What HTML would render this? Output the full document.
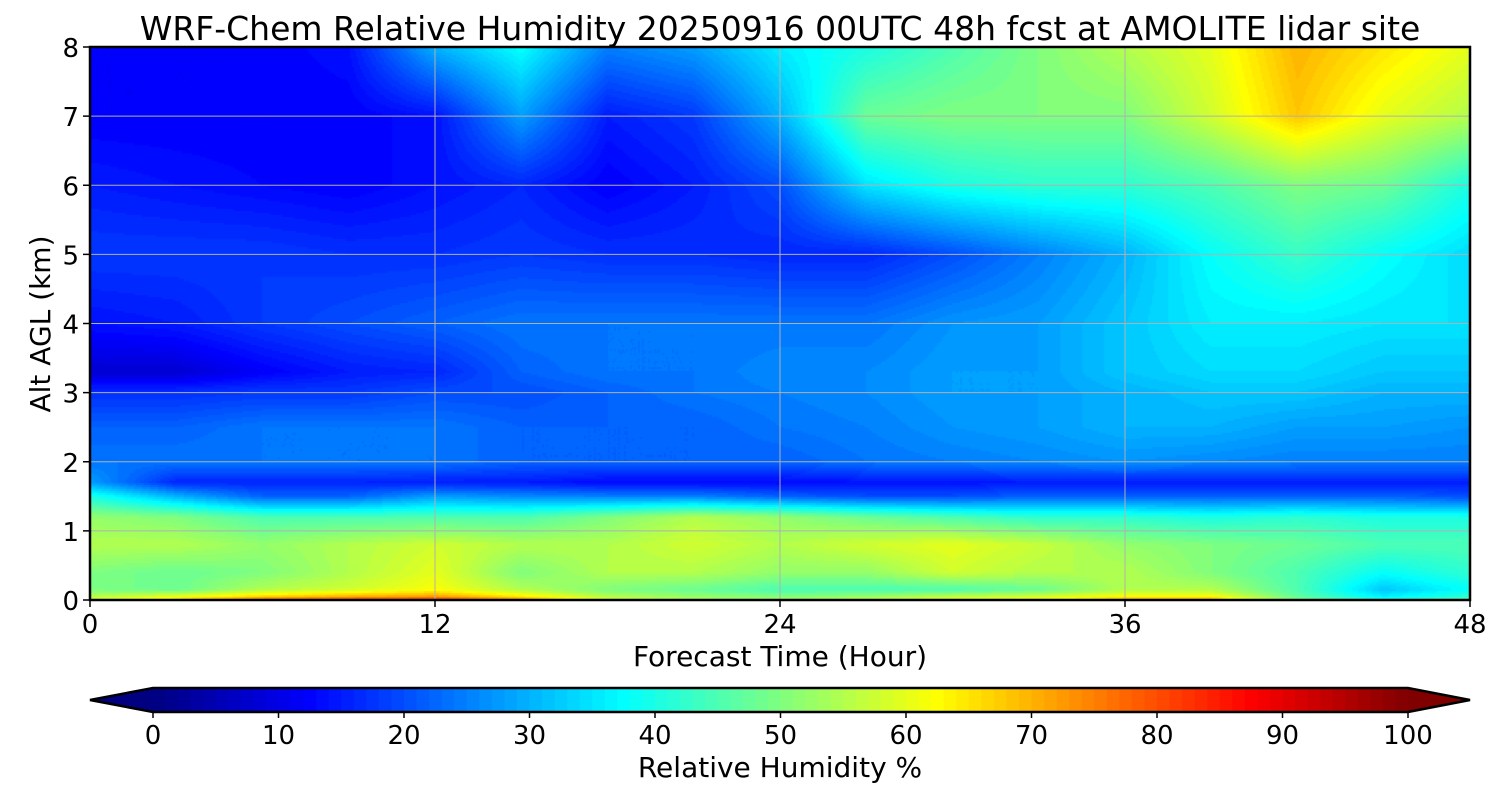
<!DOCTYPE html>
<html><head><meta charset="utf-8"><style>
body{margin:0;background:#fff;width:1500px;height:800px;overflow:hidden;font-family:"Liberation Sans","DejaVu Sans",sans-serif}
#wrap{position:relative;width:1500px;height:800px}
canvas{position:absolute;left:90px;top:47px}
svg{position:absolute;left:0;top:0}
text{font-family:"DejaVu Sans","Liberation Sans",sans-serif;fill:#000}
</style></head><body><div id="wrap">
<canvas id="field" width="1380" height="553"></canvas>
<svg id="svg" width="1500" height="800"></svg>
</div>
<script>
const times=[0,3,6,9,12,15,18,21,24,27,30,33,36,39,42,45,48];
const heights=[0,0.05,0.15,0.4,0.8,1.2,1.5,1.7,2,2.5,3,3.3,4,5,6,7,8];
const rh=[
[60,68,80,84,85,75,60,55,55,58,62,64,72,72,50,40,45],
[55,60,66,70,72,64,55,52,50,52,56,58,62,62,47,36,42],
[50,48,55,58,62,55,50,48,45,45,45,48,55,55,45,32,38],
[50,48,50,55,60,50,55,55,52,52,58,55,55,50,45,38,42],
[55,55,52,55,58,55,55,58,55,58,60,57,52,50,48,45,45],
[52,50,45,45,45,45,50,55,52,48,45,42,42,40,42,40,40],
[40,30,22,22,28,26,25,25,22,20,20,22,22,22,22,22,20],
[28,16,16,16,15,15,13,13,13,14,14,15,15,15,15,15,15],
[24,24,24,24,24,22,22,22,22,24,25,26,27,26,25,25,25],
[22,22,24,24,24,22,22,22,24,25,27,28,30,30,28,28,27],
[17,17,18,18,20,20,22,24,25,26,28,28,30,32,32,30,30],
[8,8,12,15,16,22,24,24,26,26,28,28,32,34,34,32,32],
[14,15,18,20,22,24,24,24,24,24,27,28,32,36,36,35,35],
[18,18,18,17,17,18,17,17,16,16,20,25,30,38,43,38,34],
[15,14,13,12,14,16,12,15,20,35,40,42,42,45,50,48,40],
[12,12,12,12,14,28,15,18,30,48,50,50,50,58,68,60,55],
[12,12,12,14,30,38,25,28,36,40,45,50,55,60,70,65,60]];
const cbTicks=[0,10,20,30,40,50,60,70,80,90,100];
const xTicks=[0,12,24,36,48];
const yTicks=[0,1,2,3,4,5,6,7,8];
const PX0=90,PX1=1470,PY0=600,PY1=47;
const xs=t=>PX0+(t/48)*(PX1-PX0);
const ys=h=>PY0-(h/8)*(PY0-PY1);
const CB0=153,CB1=1408;
const cs=v=>CB0+(v/100)*(CB1-CB0);
function jet(v){const x=Math.max(0,Math.min(1,v/100));
 const f=c=>Math.round(255*Math.max(0,Math.min(1,1.5-Math.abs(4*x-c))));
 return `rgb(${f(3)},${f(2)},${f(1)})`;}
function seg(arr,v){let i=0;while(i<arr.length-2&&v>arr[i+1])i++;return [i,(v-arr[i])/(arr[i+1]-arr[i])];}
function val(t,h){const [i,a]=seg(times,t),[j,b]=seg(heights,h);
 return rh[j][i]*(1-a)*(1-b)+rh[j][i+1]*a*(1-b)+rh[j+1][i]*(1-a)*b+rh[j+1][i+1]*a*b;}
const ctx=document.getElementById('field').getContext('2d');
const W=1380,H=553,step=2;
for(let py=0;py<H;py+=step){for(let px=0;px<W;px+=step){
 const t=(px+step/2)/W*48,h=(H-py-step/2)/H*8;
 const v=Math.floor(val(t,h));ctx.fillStyle=jet(v+0.5);ctx.fillRect(px,py,step,step);}}
const svg=document.getElementById('svg');const NS='http://www.w3.org/2000/svg';
function mk(tag,attrs,txt){const e=document.createElementNS(NS,tag);for(const k in attrs)e.setAttribute(k,attrs[k]);if(txt!==undefined)e.textContent=txt;svg.appendChild(e);return e;}
xTicks.forEach(t=>{if(t>0&&t<48){const l=mk('line',{x1:xs(t),x2:xs(t),y1:PY1,y2:PY0,stroke:'#b0b0b0','stroke-width':1});
}
 const k=mk('line',{x1:xs(t),x2:xs(t),y1:PY0,y2:PY0+7,stroke:'#000','stroke-width':1.5});
 
 const tx=mk('text',{x:xs(t),y:633,'font-size':26,'text-anchor':'middle'},t);
 });
yTicks.forEach(h=>{if(h>0&&h<8){const l=mk('line',{x1:PX0,x2:PX1,y1:ys(h),y2:ys(h),stroke:'#b0b0b0','stroke-width':1});
}
 const k=mk('line',{x1:PX0-7,x2:PX0,y1:ys(h),y2:ys(h),stroke:'#000','stroke-width':1.5});
 
 const tx=mk('text',{x:79,y:ys(h)+10,'font-size':26,'text-anchor':'end'},h);
 });
const fr=mk('rect',{x:PX0,y:PY1,width:PX1-PX0,height:PY0-PY1,fill:'none',stroke:'#000','stroke-width':2.5});

const ti=mk('text',{x:780,y:40,'font-size':33,'text-anchor':'middle'},'WRF-Chem Relative Humidity 20250916 00UTC 48h fcst at AMOLITE lidar site');

const xl=mk('text',{x:780,y:666,'font-size':28,'text-anchor':'middle'},'Forecast Time (Hour)');

const yl=mk('text',{x:0,y:0,'font-size':28,'text-anchor':'middle',transform:'translate(50,324) rotate(-90)'},'Alt AGL (km)');

const CY0=688,CY1=712;
for(let v=0;v<100;v++){const r=mk('rect',{x:cs(v),y:CY0,width:cs(v+1)-cs(v)+0.6,height:CY1-CY0,fill:jet(v+0.5)});
 }
const lt=mk('polygon',{points:`${CB0},${CY0} 90,${(CY0+CY1)/2} ${CB0},${CY1}`,fill:jet(0)});

const rt=mk('polygon',{points:`${CB1},${CY0} 1470,${(CY0+CY1)/2} ${CB1},${CY1}`,fill:jet(100)});

const ob=mk('polygon',{points:`${CB0},${CY0} ${CB1},${CY0} 1470,${(CY0+CY1)/2} ${CB1},${CY1} ${CB0},${CY1} 90,${(CY0+CY1)/2}`,fill:'none',stroke:'#000','stroke-width':2.5});

cbTicks.forEach(v=>{const k=mk('line',{x1:cs(v),x2:cs(v),y1:CY1,y2:CY1+6,stroke:'#000','stroke-width':1.5});
 
 const tx=mk('text',{x:cs(v),y:744,'font-size':26,'text-anchor':'middle'},v);
 });
const cl=mk('text',{x:780,y:777,'font-size':28,'text-anchor':'middle'},'Relative Humidity %');

</script></body></html>
